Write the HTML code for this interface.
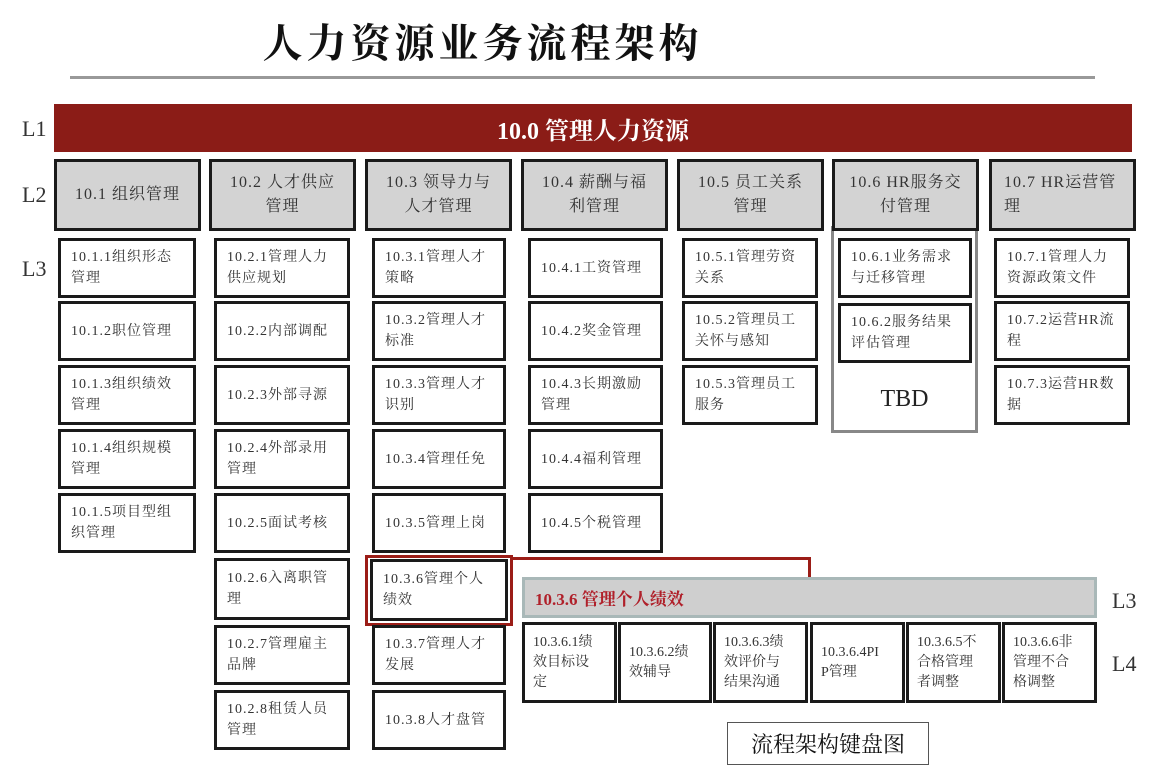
<!DOCTYPE html>
<html><head><meta charset="utf-8"><style>
body{margin:0;width:1162px;height:782px;background:#fff;position:relative;overflow:hidden;font-family:"Liberation Serif","Noto Serif CJK SC","Noto Sans CJK SC",serif;color:#222}
.a{position:absolute;box-sizing:border-box}
.l2{border:3px solid #1a1a1a;background:#d3d3d3;display:flex;align-items:center;justify-content:center;text-align:center;font-size:16px;line-height:24px;padding:0 6px;color:#333;white-space:nowrap;letter-spacing:1px}
.l3{border:3px solid #1a1a1a;background:#fff;display:flex;align-items:center;font-size:14px;line-height:21px;padding:0 10px;color:#333;white-space:nowrap;letter-spacing:1px}
.l4{border:3px solid #1a1a1a;background:#fff;display:flex;align-items:center;font-size:14px;line-height:20px;padding:0 8px;color:#333;white-space:nowrap}
.lab{font-size:22px;color:#333}
</style></head><body>
<div class="a" style="left:0;top:12px;width:965px;text-align:center;font-size:40px;font-weight:bold;color:#111;letter-spacing:4px">人力资源业务流程架构</div>
<div class="a" style="left:70px;top:76px;width:1025px;height:3px;background:#999"></div>
<div class="a lab" style="left:22px;top:116px">L1</div>
<div class="a lab" style="left:22px;top:182px">L2</div>
<div class="a lab" style="left:22px;top:256px">L3</div>
<div class="a" style="left:54px;top:104px;width:1078px;height:48px;background:#8b1c17;color:#fff;font-size:24px;font-weight:bold;display:flex;align-items:center;justify-content:center">10.0 管理人力资源</div>

<div class="a" style="left:831px;top:226px;width:147px;height:207px;border:3px solid #888"></div>
<div class="a" style="left:832px;top:364px;width:145px;height:70px;display:flex;align-items:center;justify-content:center;font-size:24px;color:#222">TBD</div>

<div class="a l2" style="left:54px;top:159px;width:147px;height:72px">10.1 组织管理</div>
<div class="a l2" style="left:209px;top:159px;width:147px;height:72px">10.2 人才供应<br>管理</div>
<div class="a l2" style="left:365px;top:159px;width:147px;height:72px">10.3 领导力与<br>人才管理</div>
<div class="a l2" style="left:521px;top:159px;width:147px;height:72px">10.4 薪酬与福<br>利管理</div>
<div class="a l2" style="left:677px;top:159px;width:147px;height:72px">10.5 员工关系<br>管理</div>
<div class="a l2" style="left:832px;top:159px;width:147px;height:72px">10.6 HR服务交<br>付管理</div>
<div class="a l2" style="left:989px;top:159px;width:147px;height:72px;justify-content:flex-start;text-align:left;padding-left:12px">10.7 HR运营管<br>理</div>

<div class="a l3" style="left:58px;top:238px;width:138px;height:60px">10.1.1组织形态<br>管理</div>
<div class="a l3" style="left:58px;top:301px;width:138px;height:60px">10.1.2职位管理</div>
<div class="a l3" style="left:58px;top:365px;width:138px;height:60px">10.1.3组织绩效<br>管理</div>
<div class="a l3" style="left:58px;top:429px;width:138px;height:60px">10.1.4组织规模<br>管理</div>
<div class="a l3" style="left:58px;top:493px;width:138px;height:60px">10.1.5项目型组<br>织管理</div>

<div class="a l3" style="left:214px;top:238px;width:136px;height:60px">10.2.1管理人力<br>供应规划</div>
<div class="a l3" style="left:214px;top:301px;width:136px;height:60px">10.2.2内部调配</div>
<div class="a l3" style="left:214px;top:365px;width:136px;height:60px">10.2.3外部寻源</div>
<div class="a l3" style="left:214px;top:429px;width:136px;height:60px">10.2.4外部录用<br>管理</div>
<div class="a l3" style="left:214px;top:493px;width:136px;height:60px">10.2.5面试考核</div>
<div class="a l3" style="left:214px;top:558px;width:136px;height:62px">10.2.6入离职管<br>理</div>
<div class="a l3" style="left:214px;top:625px;width:136px;height:60px">10.2.7管理雇主<br>品牌</div>
<div class="a l3" style="left:214px;top:690px;width:136px;height:60px">10.2.8租赁人员<br>管理</div>

<div class="a l3" style="left:372px;top:238px;width:134px;height:60px">10.3.1管理人才<br>策略</div>
<div class="a l3" style="left:372px;top:301px;width:134px;height:60px">10.3.2管理人才<br>标准</div>
<div class="a l3" style="left:372px;top:365px;width:134px;height:60px">10.3.3管理人才<br>识别</div>
<div class="a l3" style="left:372px;top:429px;width:134px;height:60px">10.3.4管理任免</div>
<div class="a l3" style="left:372px;top:493px;width:134px;height:60px">10.3.5管理上岗</div>
<div class="a" style="left:365px;top:555px;width:148px;height:71px;border:3px solid #9b1d17"></div>
<div class="a l3" style="left:370px;top:559px;width:138px;height:62px">10.3.6管理个人<br>绩效</div>
<div class="a l3" style="left:372px;top:625px;width:134px;height:60px">10.3.7管理人才<br>发展</div>
<div class="a l3" style="left:372px;top:690px;width:134px;height:60px">10.3.8人才盘管</div>

<div class="a l3" style="left:528px;top:238px;width:135px;height:60px">10.4.1工资管理</div>
<div class="a l3" style="left:528px;top:301px;width:135px;height:60px">10.4.2奖金管理</div>
<div class="a l3" style="left:528px;top:365px;width:135px;height:60px">10.4.3长期激励<br>管理</div>
<div class="a l3" style="left:528px;top:429px;width:135px;height:60px">10.4.4福利管理</div>
<div class="a l3" style="left:528px;top:493px;width:135px;height:60px">10.4.5个税管理</div>

<div class="a l3" style="left:682px;top:238px;width:136px;height:60px">10.5.1管理劳资<br>关系</div>
<div class="a l3" style="left:682px;top:301px;width:136px;height:60px">10.5.2管理员工<br>关怀与感知</div>
<div class="a l3" style="left:682px;top:365px;width:136px;height:60px">10.5.3管理员工<br>服务</div>

<div class="a l3" style="left:838px;top:238px;width:134px;height:60px">10.6.1业务需求<br>与迁移管理</div>
<div class="a l3" style="left:838px;top:303px;width:134px;height:60px">10.6.2服务结果<br>评估管理</div>

<div class="a l3" style="left:994px;top:238px;width:136px;height:60px">10.7.1管理人力<br>资源政策文件</div>
<div class="a l3" style="left:994px;top:301px;width:136px;height:60px">10.7.2运营HR流<br>程</div>
<div class="a l3" style="left:994px;top:365px;width:136px;height:60px">10.7.3运营HR数<br>据</div>

<div class="a" style="left:511px;top:557px;width:300px;height:3px;background:#9b1d17"></div>
<div class="a" style="left:808px;top:557px;width:3px;height:21px;background:#9b1d17"></div>

<div class="a" style="left:522px;top:577px;width:575px;height:41px;background:#cfcfcf;border:3px solid #a9b8b8;display:flex;align-items:center;padding-left:10px;color:#b0202a;font-size:17px;font-weight:bold">10.3.6 管理个人绩效</div>
<div class="a lab" style="left:1112px;top:588px">L3</div>
<div class="a lab" style="left:1112px;top:651px">L4</div>
<div class="a l4" style="left:522px;top:622px;width:95px;height:81px">10.3.6.1绩<br>效目标设<br>定</div>
<div class="a l4" style="left:618px;top:622px;width:94px;height:81px">10.3.6.2绩<br>效辅导</div>
<div class="a l4" style="left:713px;top:622px;width:95px;height:81px">10.3.6.3绩<br>效评价与<br>结果沟通</div>
<div class="a l4" style="left:810px;top:622px;width:95px;height:81px">10.3.6.4PI<br>P管理</div>
<div class="a l4" style="left:906px;top:622px;width:95px;height:81px">10.3.6.5不<br>合格管理<br>者调整</div>
<div class="a l4" style="left:1002px;top:622px;width:95px;height:81px">10.3.6.6非<br>管理不合<br>格调整</div>

<div class="a" style="left:727px;top:722px;width:202px;height:43px;border:1px solid #555;display:flex;align-items:center;justify-content:center;font-size:22px;color:#111">流程架构键盘图</div>
</body></html>
